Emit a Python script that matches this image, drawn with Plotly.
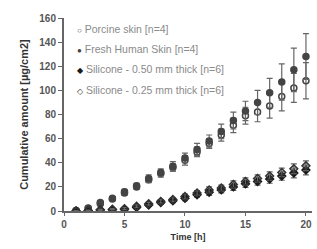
import plotly.graph_objects as go

time_h = list(range(1, 21))

porcine = [0.5, 2, 6, 10, 15, 20, 26, 31, 36, 42, 49, 56, 63, 71, 79, 82, 87, 95, 102, 108]
porcine_err = [0.5, 1, 1.5, 1.5, 2, 2, 2.5, 3, 3, 4, 4, 4, 5, 6, 7, 8, 10, 12, 12, 15]

human = [0.5, 2.5, 7, 10.5, 16, 21, 27, 32, 37, 44, 51, 58, 66, 75, 83, 90, 98, 107, 117, 128]
human_err = [0.5, 1, 1.5, 1.5, 2, 2, 3, 3, 4, 4, 5, 5, 6, 7, 8, 10, 12, 15, 18, 19]

sil050 = [0, 0.3, 0.8, 1, 1.3, 3, 5, 7, 8.5, 10.5, 13.5, 15.5, 17.5, 20, 22.5, 24.5, 26.5, 29, 31.5, 34]
sil050_err = [0.3, 0.3, 0.5, 0.5, 0.8, 1, 1.2, 1.5, 1.5, 2, 2, 2.5, 2.5, 3, 3, 3, 3.5, 3.5, 4, 4]

sil025 = [0, 0.5, 1, 1.5, 2, 4, 6, 8, 9.5, 12, 15, 17.5, 19, 22, 24.5, 27, 29, 32, 35, 37.5]
sil025_err = [0.3, 0.3, 0.5, 0.5, 0.8, 1, 1.2, 1.5, 1.5, 2, 2, 2.5, 2.5, 3, 3, 3, 3.5, 3.5, 4, 4]

names = ["Porcine skin [n=4]", "Fresh Human Skin [n=4]",
         "Silicone - 0.50 mm thick [n=6]", "Silicone - 0.25 mm thick [n=6]"]
legend_glyphs = ["○", "●", "◆", "◇"]

series = [
    (porcine, porcine_err, "circle-open", "#444444"),
    (human, human_err, "circle", "#444444"),
    (sil050, sil050_err, "diamond", "#1a1a1a"),
    (sil025, sil025_err, "diamond-open", "#333333"),
]

fig = go.Figure()
for name, (vals, errs, sym, col) in zip(names, series):
    fig.add_trace(go.Scatter(
        x=time_h, y=vals, name=name, mode="markers", showlegend=False,
        marker=dict(symbol=sym, size=6, color=col,
                    line=dict(width=1.5, color=col)),
        error_y=dict(type="data", array=errs, visible=True,
                     color="#666666", thickness=1.2, width=3),
    ))

# compact legend drawn as text (marker glyph + label)
legend_y = [0.943, 0.839, 0.736, 0.627]
for glyph, name, ly, (_, _, _, col) in zip(legend_glyphs, names, legend_y, series):
    fig.add_annotation(
        xref="paper", yref="paper", x=0.045, y=ly, xanchor="left", yanchor="middle",
        showarrow=False,
        text=f"<span style='color:{col};font-size:8px'>{glyph}</span> {name}",
        font=dict(size=10.5, color="#8a8a8a", family="Liberation Sans, Arial, sans-serif"),
    )

font = "Liberation Sans, Arial, sans-serif"
fig.update_layout(
    width=317, height=249,
    margin=dict(l=64, r=5, t=18, b=38),
    paper_bgcolor="white", plot_bgcolor="white",
    font=dict(family=font, size=10, color="#555555"),
    showlegend=False,
    xaxis=dict(range=[0, 20.5], tickvals=[0, 5, 10, 15, 20],
               ticktext=["<b>0</b>", "<b>5</b>", "<b>10</b>", "<b>15</b>", "<b>20</b>"],
               ticks="outside", ticklen=3, tickcolor="#666666", showline=True,
               linecolor="#666666", linewidth=2, showgrid=False, zeroline=False,
               tickfont=dict(size=10, color="#555555"),
               title=dict(text="<b>Time [h]</b>", standoff=5,
                          font=dict(size=9, color="#333333"))),
    yaxis=dict(range=[0, 160], tickvals=[0, 20, 40, 60, 80, 100, 120, 140, 160],
               ticktext=[f"<b>{v}</b>" for v in [0, 20, 40, 60, 80, 100, 120, 140, 160]],
               ticks="outside", ticklen=4, tickcolor="#666666", showline=True,
               linecolor="#666666", linewidth=2, showgrid=False, zeroline=False,
               tickfont=dict(size=10, color="#555555"),
               title=dict(text="<b>Cumulative amount [µg/cm2]</b>", standoff=8,
                          font=dict(size=11, color="#333333"))),
)

fig.write_html(
    "out.html",
    config={"displayModeBar": False},
    post_script="document.body.style.margin='0';document.body.style.overflow='hidden';",
)
